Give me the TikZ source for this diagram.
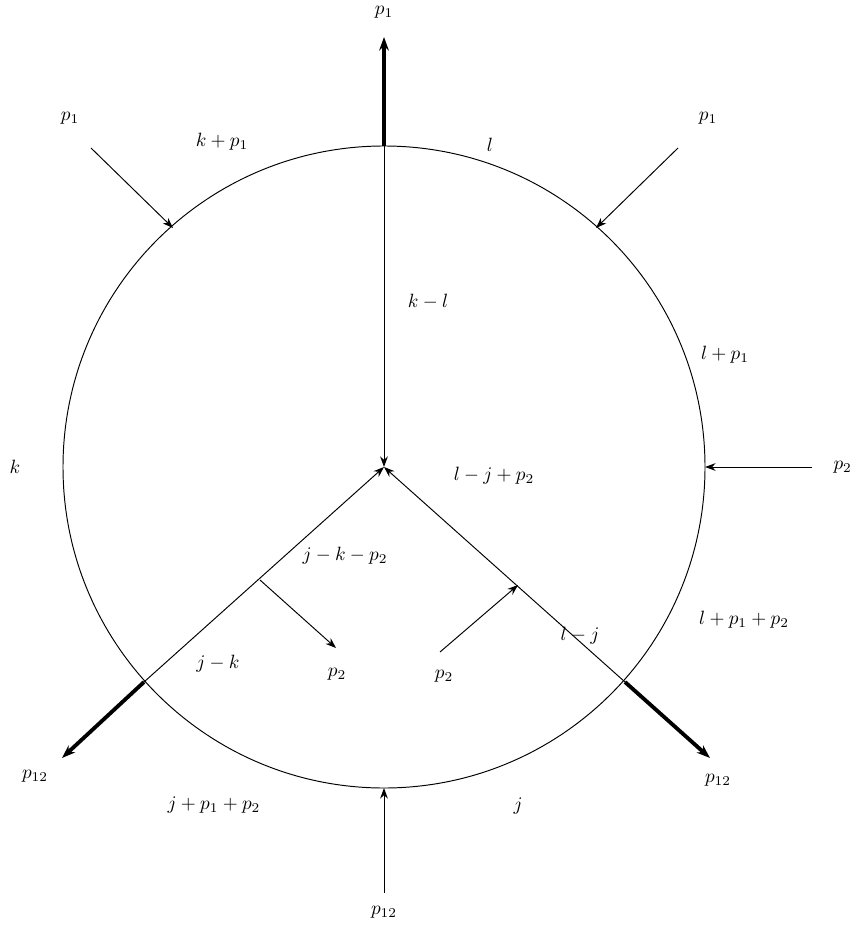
\documentclass[tikz,border=0pt]{standalone}
\usepackage{amsmath}
\usetikzlibrary{arrows.meta,positioning}
\tikzset{
  prop/.style={line width=0.5pt},
  parr/.style={line width=0.5pt, -{Stealth[length=5.5pt,width=4pt]}},
  legarr/.style={line width=2pt, -{Stealth[length=7pt,width=5pt]}},
  lab/.style={inner sep=1pt}
}

\begin{document}
\begin{tikzpicture}[x=0.52pt,y=-0.52pt]
\useasboundingbox (0,0) rectangle (853,927);
% loop and vertices
\coordinate (c) at (384,467);
\coordinate (vt) at (384,146);
\coordinate (vl) at (144,682);
\coordinate (vr) at (625,682);
\coordinate (vul) at (173,228);
\coordinate (vur) at (596,228);
\coordinate (vri) at (705,467);
\coordinate (vbo) at (384,788);
\coordinate (wl) at (260,580);
\coordinate (wr) at (518,585);
% free ends of the legs
\coordinate (ttop) at (384,37);
\coordinate (tbl) at (62,758);
\coordinate (tbr) at (710,758);
\coordinate (sul) at (91,148);
\coordinate (sur) at (678,148);
\coordinate (sri) at (812,467);
\coordinate (sbo) at (384,893);
\coordinate (tl) at (336,648);
\coordinate (sr) at (440,652);
\draw[prop] (c) circle [radius=321];
\draw[parr] (vt)--(c);
\draw[parr] (vl)--(c);
\draw[parr] (vr)--(c);
\draw[legarr] (vt)--(ttop);
\draw[legarr] (vl)--(tbl);
\draw[legarr] (vr)--(tbr);
\draw[parr] (sul)--(vul);
\draw[parr] (sur)--(vur);
\draw[parr] (sri)--(vri);
\draw[parr] (sbo)--(vbo);
\draw[parr] (wl)--(tl);
\draw[parr] (sr)--(wr);
% external momenta
\node[lab] (pt) at (384,12) {$p_1$};
\node[lab] (pul) at (70,118) {$p_1$};
\node[lab] (pur) at (708,118) {$p_1$};
\node[lab, right=10pt of sri] (pri) {$p_2$};
\node[lab] (pbo) at (384,912) {$p_{12}$};
\node[lab] (pbl) at (35,776) {$p_{12}$};
\node[lab] (pbr) at (718,780) {$p_{12}$};
\node[lab] (pil) at (337,674) {$p_2$};
\node[lab] (pir) at (444,676) {$p_2$};
% loop momenta
\node[lab] (mk) at (15,467) {$k$};
\node[lab] (mkp) at (222,142) {$k+p_1$};
\node[lab] (ml) at (490,145) {$l$};
\node[lab] (mkl) at (428,302) {$k-l$};
\node[lab] (mlp) at (725,355) {$l+p_1$};
\node[lab] (mljp) at (494,476) {$l-j+p_2$};
\node[lab] (mjkp) at (345,556) {$j-k-p_2$};
\node[lab] (mjk) at (218,664) {$j-k$};
\node[lab] (mlj) at (580,636) {$l-j$};
\node[lab] (mlpp) at (744,620) {$l+p_1+p_2$};
\node[lab] (mjpp) at (214,805) {$j+p_1+p_2$};
\node[lab] (mj) at (518,806) {$j$};
\end{tikzpicture}
\end{document}
